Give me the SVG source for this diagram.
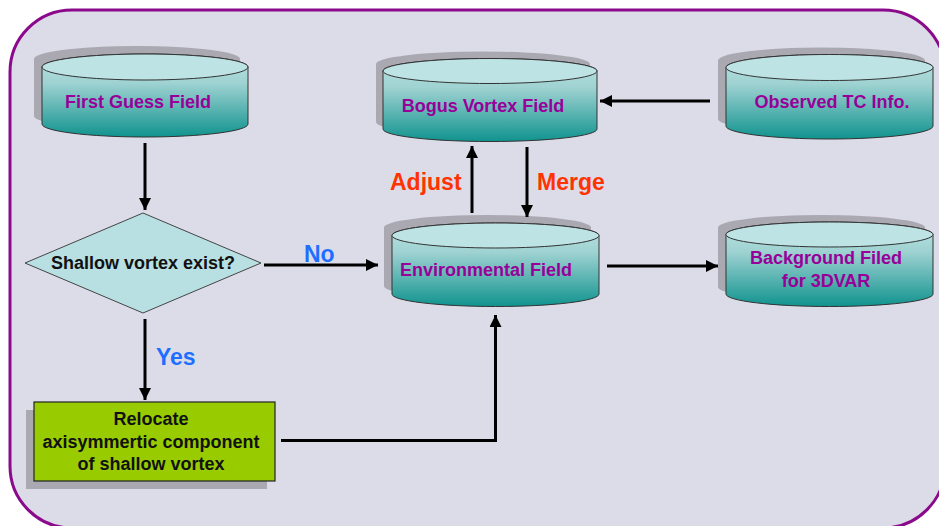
<svg xmlns="http://www.w3.org/2000/svg" width="939" height="526" viewBox="0 0 939 526">
<defs>
<linearGradient id="body" x1="0" y1="0" x2="0" y2="1">
<stop offset="0" stop-color="#BDE3E4"/>
<stop offset="0.35" stop-color="#9FD2D2"/>
<stop offset="1" stop-color="#10938E"/>
</linearGradient>
<marker id="ah" viewBox="0 0 12 12" refX="12" refY="6" markerWidth="13" markerHeight="12" markerUnits="userSpaceOnUse" orient="auto">
<path d="M0,0 L12,6 L0,12 Z" fill="#000"/>
</marker>
<style>
.sh{fill:#AAA9B2}
.cb{fill:url(#body);stroke:#333;stroke-width:1}
.ct{fill:#BDE3E4;stroke:#333;stroke-width:1}
.nt{font-family:"Liberation Sans",Arial,sans-serif;font-weight:bold;font-size:18px;fill:#990099;text-anchor:middle}
.bt{font-family:"Liberation Sans",Arial,sans-serif;font-weight:bold;font-size:18px;fill:#111;text-anchor:middle}
.lb{font-family:"Liberation Sans",Arial,sans-serif;font-weight:bold;font-size:23px}
.ln{fill:none;stroke:#000;stroke-width:3;marker-end:url(#ah)}
</style>
</defs>
<rect x="10" y="10" width="935" height="518" rx="62" ry="62" fill="#DCDCE9" stroke="#8B0A8B" stroke-width="3"/>

<g id="first-guess">
<path class="sh" transform="translate(-8,-8)" d="M42 67 L42 124 A103 13 0 0 0 248 124 L248 67 A103 13 0 0 0 42 67 Z"/>
<path class="cb" d="M42 67 L42 124 A103 13 0 0 0 248 124 L248 67 A103 13 0 0 0 42 67 Z"/>
<ellipse class="ct" cx="145" cy="67" rx="103" ry="13"/>
<text class="nt" x="138" y="108">First Guess Field</text>
</g>

<g id="bogus">
<path class="sh" transform="translate(-7,-7)" d="M383 71 L383 129 A107 12.5 0 0 0 597 129 L597 71 A107 12.5 0 0 0 383 71 Z"/>
<path class="cb" d="M383 71 L383 129 A107 12.5 0 0 0 597 129 L597 71 A107 12.5 0 0 0 383 71 Z"/>
<ellipse class="ct" cx="490" cy="71" rx="107" ry="12.5"/>
<text class="nt" x="483" y="112">Bogus Vortex Field</text>
</g>

<g id="observed">
<path class="sh" transform="translate(-8,-7)" d="M726 67.5 L726 126 A103.5 13 0 0 0 933 126 L933 67.5 A103.5 13 0 0 0 726 67.5 Z"/>
<path class="cb" d="M726 67.5 L726 126 A103.5 13 0 0 0 933 126 L933 67.5 A103.5 13 0 0 0 726 67.5 Z"/>
<ellipse class="ct" cx="829.5" cy="67.5" rx="103.5" ry="13"/>
<text class="nt" x="832" y="108">Observed TC Info.</text>
</g>

<g id="environmental">
<path class="sh" transform="translate(-8,-8)" d="M392 235.5 L392 294 A103.5 12.5 0 0 0 599 294 L599 235.5 A103.5 12.5 0 0 0 392 235.5 Z"/>
<path class="cb" d="M392 235.5 L392 294 A103.5 12.5 0 0 0 599 294 L599 235.5 A103.5 12.5 0 0 0 392 235.5 Z"/>
<ellipse class="ct" cx="495.5" cy="235.5" rx="103.5" ry="12.5"/>
<text class="nt" x="486" y="276">Environmental Field</text>
</g>

<g id="background">
<path class="sh" transform="translate(-8,-7)" d="M726 234.5 L726 294 A103.5 12.5 0 0 0 933 294 L933 234.5 A103.5 12.5 0 0 0 726 234.5 Z"/>
<path class="cb" d="M726 234.5 L726 294 A103.5 12.5 0 0 0 933 294 L933 234.5 A103.5 12.5 0 0 0 726 234.5 Z"/>
<ellipse class="ct" cx="829.5" cy="234.5" rx="103.5" ry="12.5"/>
<text class="nt" x="826" y="264">Background Filed</text>
<text class="nt" x="826" y="287">for 3DVAR</text>
</g>

<g id="decision">
<polygon points="25,263 143,213 261,263 143,313" fill="#B8E0E2" stroke="#444" stroke-width="1"/>
<text class="bt" x="143" y="269">Shallow vortex exist?</text>
</g>

<g id="relocate">
<rect x="26" y="410" width="241" height="79" fill="#AAA9B2"/>
<rect x="34" y="402" width="241" height="79" fill="#99CC00" stroke="#222" stroke-width="1.2"/>
<text class="bt" x="151" y="425">Relocate</text>
<text class="bt" x="151" y="448">axisymmertic component</text>
<text class="bt" x="151" y="470">of shallow vortex</text>
</g>

<g id="connectors">
<line class="ln" x1="145" y1="143" x2="145" y2="210"/>
<line class="ln" x1="145" y1="319" x2="145" y2="400"/>
<line class="ln" x1="264" y1="265" x2="378" y2="265"/>
<polyline class="ln" points="281,440.5 495.5,440.5 495.5,315"/>
<line class="ln" x1="607" y1="266" x2="718" y2="266"/>
<line class="ln" x1="710" y1="101" x2="600" y2="101"/>
<line class="ln" x1="472" y1="213" x2="472" y2="146"/>
<line class="ln" x1="527" y1="147" x2="527" y2="217"/>
<text class="lb" x="390" y="190" fill="#FF3300">Adjust</text>
<text class="lb" x="537" y="190" fill="#FF3300">Merge</text>
<text class="lb" x="304" y="262" fill="#1E6FFF">No</text>
<text class="lb" x="156" y="365" fill="#1E6FFF">Yes</text>
</g>
</svg>
